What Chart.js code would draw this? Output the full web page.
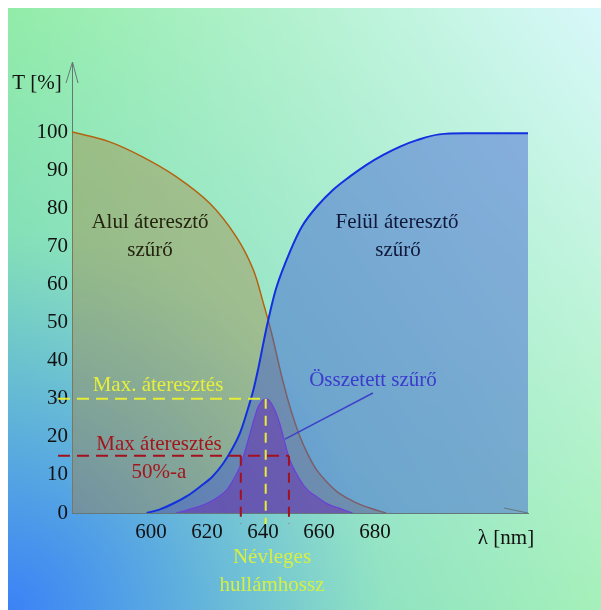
<!DOCTYPE html>
<html>
<head>
<meta charset="utf-8">
<script src="https://cdn.jsdelivr.net/npm/chart.js@4/dist/chart.umd.min.js"></script>
<style>
html,body{margin:0;padding:0;background:#fff;}
canvas{display:block;}
</style>
</head>
<body>
<canvas id="c" width="601" height="610" style="width:601px;height:610px"></canvas>
<script>
// ---- data ----
const xTicks = [600, 620, 640, 660, 680];
const yTicks = [0, 10, 20, 30, 40, 50, 60, 70, 80, 90, 100];

// low-pass filter (Alul áteresztő szűrő)
const lowNm = [571.8, 585, 597, 609, 621, 630.5, 636.5, 640, 643, 647, 650, 653, 656, 659, 663, 667, 673, 679, 684];
const lowT  = [100, 97.5, 93.5, 88.3, 81.3, 72.5, 64, 55.5, 47.5, 35, 27, 20.5, 15.5, 11.5, 8, 5.3, 2.8, 1.1, 0];

// high-pass filter (Felül áteresztő szűrő)
const highNm = [598.5, 603, 608, 613, 617.5, 622, 625.8, 629, 631.8, 634, 636.5, 638.5, 640, 641.8, 644.9, 649.6, 654, 659.2, 665, 671, 677, 683, 689, 695, 703, 715, 734.7];
const highT  = [0, 0.9, 2.5, 4.5, 6.9, 9.6, 13, 16.8, 21, 25.8, 32, 38.5, 44, 50.3, 59.4, 68.5, 75.3, 80.4, 84.8, 88.3, 91.4, 94, 96.2, 97.9, 99.4, 99.7, 99.7];

// combined filter (Összetett szűrő)
const combNm = [609, 615, 619.9, 624, 627, 629.5, 631.8, 633.5, 635.4, 637, 638.3, 639.8, 641, 642.3, 644.3, 646, 647.3, 649.6, 653, 656, 659.2, 663, 667.5, 672];
const combT  = [0, 1.2, 2.5, 4.2, 6.0, 8.8, 12.2, 16, 20.9, 25, 27.9, 29.5, 30, 29.5, 27, 23.5, 20, 14, 9, 6, 4.3, 2.4, 1.2, 0];

// reference lines
const peakNm = 641, peakT = 30, halfT = 15;
const halfLeftNm = 632.1, halfRightNm = 649.3;
const lineStartNm = 566.8, lineBelowT = -2.9;
// pointer of the "Összetett szűrő" label
const pointerNm = [679.3, 647.9], pointerT = [31.5, 19.4];

const xMin = 571.8, xMax = 734.7, yMin = 0, yMax = 118.4;

const pts = (xs, ys) => xs.map((x, i) => ({x: x, y: ys[i]}));
const serif = '"Liberation Serif", "DejaVu Serif", serif';

const bgPlugin = {
  id: 'bg',
  beforeDraw(chart) {
    const ctx = chart.ctx;
    const W = chart.width, H = chart.height;
    const x0 = 8, y0 = 8, w = W - x0, h = H - y0;
    const img = ctx.createImageData(w, h);
    const TL = [146, 236, 168], TR = [216, 248, 250], BL = [108, 204, 208], BR = [165, 240, 185];
    const BLUE = [60, 130, 246];
    for (let j = 0; j < h; j++) {
      const v = j / (h - 1);
      for (let i = 0; i < w; i++) {
        const u = i / (w - 1);
        const k = (j * w + i) * 4;
        const d = Math.sqrt(i * i + (h - j) * (h - j));
        let b = Math.max(0, 1 - d / 380);
        b = Math.pow(b, 1.25);
        for (let c = 0; c < 3; c++) {
          const top = TL[c] * (1 - u) + TR[c] * u;
          const bot = BL[c] * (1 - u) + BR[c] * u;
          let val = top * (1 - v) + bot * v;
          val = val * (1 - b) + BLUE[c] * b;
          img.data[k + c] = val;
        }
        img.data[k + 3] = 255;
      }
    }
    ctx.putImageData(img, x0, y0);
  }
};

const decoPlugin = {
  id: 'deco',
  afterDraw(chart) {
    const ctx = chart.ctx;
    const a = chart.chartArea;
    ctx.save();
    // axis arrows
    ctx.strokeStyle = '#647878';
    ctx.lineWidth = 1;
    ctx.beginPath();
    ctx.moveTo(a.left - 6, a.top + 21);
    ctx.lineTo(a.left + 0.5, a.top);
    ctx.lineTo(a.left + 6, a.top + 21);
    ctx.moveTo(a.right - 24, a.bottom - 5);
    ctx.lineTo(a.right, a.bottom);
    ctx.stroke();

    ctx.textAlign = 'center';
    ctx.textBaseline = 'middle';
    ctx.font = '21px ' + serif;
    ctx.fillStyle = '#111';
    ctx.fillText('T [%]', 37, 83);
    ctx.fillText('\u03bb [nm]', 506, 538);

    ctx.fillStyle = '#23230f';
    ctx.fillText('Alul áteresztő', 150, 222);
    ctx.fillText('szűrő', 150, 250);

    ctx.fillStyle = '#10183a';
    ctx.fillText('Felül áteresztő', 397, 222);
    ctx.fillText('szűrő', 398, 250);

    ctx.fillStyle = '#3b3bcc';
    ctx.fillText('Összetett szűrő', 373, 380);

    ctx.fillStyle = '#e6f03a';
    ctx.fillText('Max. áteresztés', 158, 385);

    ctx.fillStyle = '#a3161c';
    ctx.fillText('Max áteresztés', 159, 444);
    ctx.fillText('50%-a', 159, 472);

    ctx.fillStyle = '#d6ef42';
    ctx.fillText('Névleges', 272, 557);
    ctx.fillText('hullámhossz', 272, 585);
    ctx.restore();
  }
};

const curve = { pointRadius: 0, tension: 0.35, fill: 'origin' };

const chart = new Chart(document.getElementById('c'), {
  type: 'line',
  data: {
    datasets: [
      Object.assign({ data: pts(lowNm, lowT), borderColor: '#b4620f', borderWidth: 1.5, backgroundColor: 'rgba(170,118,45,0.36)', order: 6 }, curve),
      Object.assign({ data: pts(highNm, highT), borderColor: '#1230e0', borderWidth: 2, backgroundColor: 'rgba(58,88,212,0.45)', order: 5 }, curve),
      Object.assign({ data: pts(combNm, combT), borderColor: '#6a40d8', borderWidth: 1.2, backgroundColor: 'rgba(105,40,175,0.48)', order: 4 }, curve),
      { data: pts(pointerNm, pointerT), borderColor: '#4040c8', borderWidth: 1.5, fill: false, pointRadius: 0, order: 3, clip: false },
      { data: [{x: lineStartNm, y: halfT}, {x: halfRightNm, y: halfT}], borderColor: '#a3101e', borderWidth: 2, borderDash: [12, 7], fill: false, pointRadius: 0, order: 2, clip: false },
      { data: [{x: halfLeftNm, y: halfT}, {x: halfLeftNm, y: lineBelowT}], borderColor: '#a3101e', borderWidth: 2, borderDash: [10, 7], fill: false, pointRadius: 0, order: 2, clip: false },
      { data: [{x: halfRightNm, y: halfT}, {x: halfRightNm, y: lineBelowT}], borderColor: '#a3101e', borderWidth: 2, borderDash: [10, 7], fill: false, pointRadius: 0, order: 2, clip: false },
      { data: [{x: lineStartNm, y: peakT}, {x: peakNm, y: peakT}], borderColor: '#e8ec36', borderWidth: 2, borderDash: [12, 7], fill: false, pointRadius: 0, order: 1, clip: false },
      { data: [{x: peakNm, y: peakT}, {x: peakNm, y: lineBelowT}], borderColor: '#e8ec36', borderWidth: 2, borderDash: [10, 7], fill: false, pointRadius: 0, order: 1, clip: false }
    ]
  },
  options: {
    responsive: false,
    animation: false,
    layout: { padding: { top: 62, right: 73, left: 0, bottom: 0 } },
    plugins: { legend: { display: false }, tooltip: { enabled: false } },
    scales: {
      x: {
        type: 'linear', min: xMin, max: xMax,
        afterBuildTicks: s => { s.ticks = xTicks.map(v => ({value: v})); },
        afterFit: s => { s.height = 97; },
        grid: { display: false, drawTicks: false },
        border: { display: true, color: '#647878', width: 1 },
        ticks: { padding: 7, color: '#111', font: { family: serif, size: 21 }, maxRotation: 0 }
      },
      y: {
        type: 'linear', min: yMin, max: yMax,
        afterBuildTicks: s => { s.ticks = yTicks.map(v => ({value: v})); },
        afterFit: s => { s.width = 72; },
        grid: { display: false, drawTicks: false },
        border: { display: true, color: '#647878', width: 1 },
        ticks: { padding: 4, color: '#111', font: { family: serif, size: 21 } }
      }
    }
  },
  plugins: [bgPlugin, decoPlugin]
});
</script>
</body>
</html>
